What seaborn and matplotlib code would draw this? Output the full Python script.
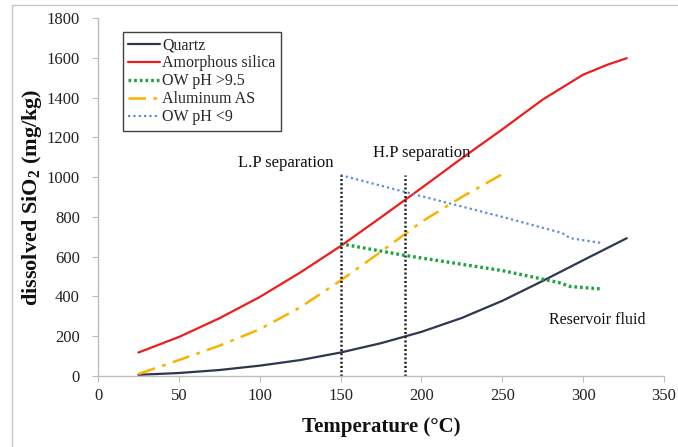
import matplotlib
matplotlib.use("Agg")
import matplotlib.pyplot as plt
import seaborn as sns
import pandas as pd
from matplotlib.patches import Rectangle

sns.set_theme(style="white")
plt.rcParams['font.family'] = ['Liberation Serif', 'DejaVu Serif']
plt.rcParams['mathtext.fontset'] = 'custom'
plt.rcParams['mathtext.rm'] = 'Liberation Serif'
plt.rcParams['mathtext.bf'] = 'Liberation Serif:bold'

# Data
quartz_t = [25, 50, 75, 100, 125, 150, 175, 200, 225, 250, 275, 300, 327]
quartz_v = [6, 15, 30, 52, 80, 118, 165, 222, 292, 378, 478, 582, 693]

amorph_t = [25, 50, 75, 100, 125, 150, 175, 200, 225, 250, 275, 300, 315, 327]
amorph_v = [118, 196, 290, 397, 520, 653, 798, 945, 1095, 1240, 1390, 1515, 1565, 1598]

ow95_t = [150, 190, 250, 285, 292, 312]
ow95_v = [665, 606, 530, 470, 450, 437]

alum_t = [25, 50, 75, 100, 125, 150, 175, 200, 225, 250]
alum_v = [10, 80, 152, 235, 345, 480, 625, 775, 900, 1015]

ow9_t = [150, 190, 250, 287, 292, 312]
ow9_v = [1010, 925, 800, 719, 693, 668]

sep_t = [150, 190]
sep_top = 1010

fig = plt.figure(figsize=(6.78, 4.47), dpi=100)
ax = fig.add_axes([98/678, 1-376/447, (664-98)/678, (376-18)/447])

fig.patches.append(Rectangle((12/678, -0.05), 1.2, 1-5/447+0.05, transform=fig.transFigure,
                             fill=False, edgecolor='#c8c8c8', linewidth=1.0, zorder=-1))

sns.lineplot(x=quartz_t, y=quartz_v, ax=ax, color='#2e3650', linewidth=1.6, label='Quartz')
sns.lineplot(x=amorph_t, y=amorph_v, ax=ax, color='#ee1c1c', linewidth=1.6, label='Amorphous silica')
sns.lineplot(x=ow95_t, y=ow95_v, ax=ax, color='#1aa23c', linewidth=2.4, label='OW pH >9.5',
             linestyle=(0, (0.8, 0.9)))
sns.lineplot(x=alum_t, y=alum_v, ax=ax, color='#f6b400', linewidth=1.8, label='Aluminum AS',
             linestyle=(0, (7, 3, 1.5, 3)))
sns.lineplot(x=ow9_t, y=ow9_v, ax=ax, color='#5b8fd4', linewidth=1.6, label='OW pH <9',
             linestyle=(0, (1, 1.4)))

for t in sep_t:
    ax.vlines(t, 0, sep_top, colors='#222222', linewidth=1.8, linestyles=[(0, (0.8, 0.9))])

ax.text(116, 1070, 'L.P separation', ha='center', va='center', fontsize=12, color='#111111')
ax.text(200, 1120, 'H.P separation', ha='center', va='center', fontsize=12, color='#111111')
ax.text(309, 281, 'Reservoir fluid', ha='center', va='center', fontsize=11.5, color='#111111')

ax.set_xlim(0, 350)
ax.set_ylim(0, 1800)
ax.set_xticks(range(0, 351, 50))
ax.set_yticks(range(0, 1801, 200))
ax.tick_params(axis='both', labelsize=12, labelcolor='#222222', length=4, width=0.8,
               direction='out', bottom=True, left=True, color='#bdbdbd')
ax.tick_params(axis='y', pad=9)
ax.tick_params(axis='x', pad=5)
for s in ['top', 'right']:
    ax.spines[s].set_visible(False)
for s in ['left', 'bottom']:
    ax.spines[s].set_color('#bdbdbd')
    ax.spines[s].set_linewidth(1.0)

ax.set_xlabel('Temperature (°C)', fontsize=15, fontweight='bold', color='#111111', labelpad=9)
ax.set_ylabel('dissolved SiO$_\\mathbf{2}$ (mg/kg)', fontsize=16, fontweight='bold',
              color='#111111', labelpad=2)

leg = ax.legend(loc='upper left', bbox_to_anchor=(0.044, 0.961), borderaxespad=0,
                fontsize=11.5, frameon=True, fancybox=False, handlelength=2.0,
                handletextpad=0.1, labelspacing=0.12, borderpad=0.35)
leg.get_frame().set_edgecolor('#111111')
leg.get_frame().set_linewidth(1.0)

fig.savefig('out.png', dpi=100)
